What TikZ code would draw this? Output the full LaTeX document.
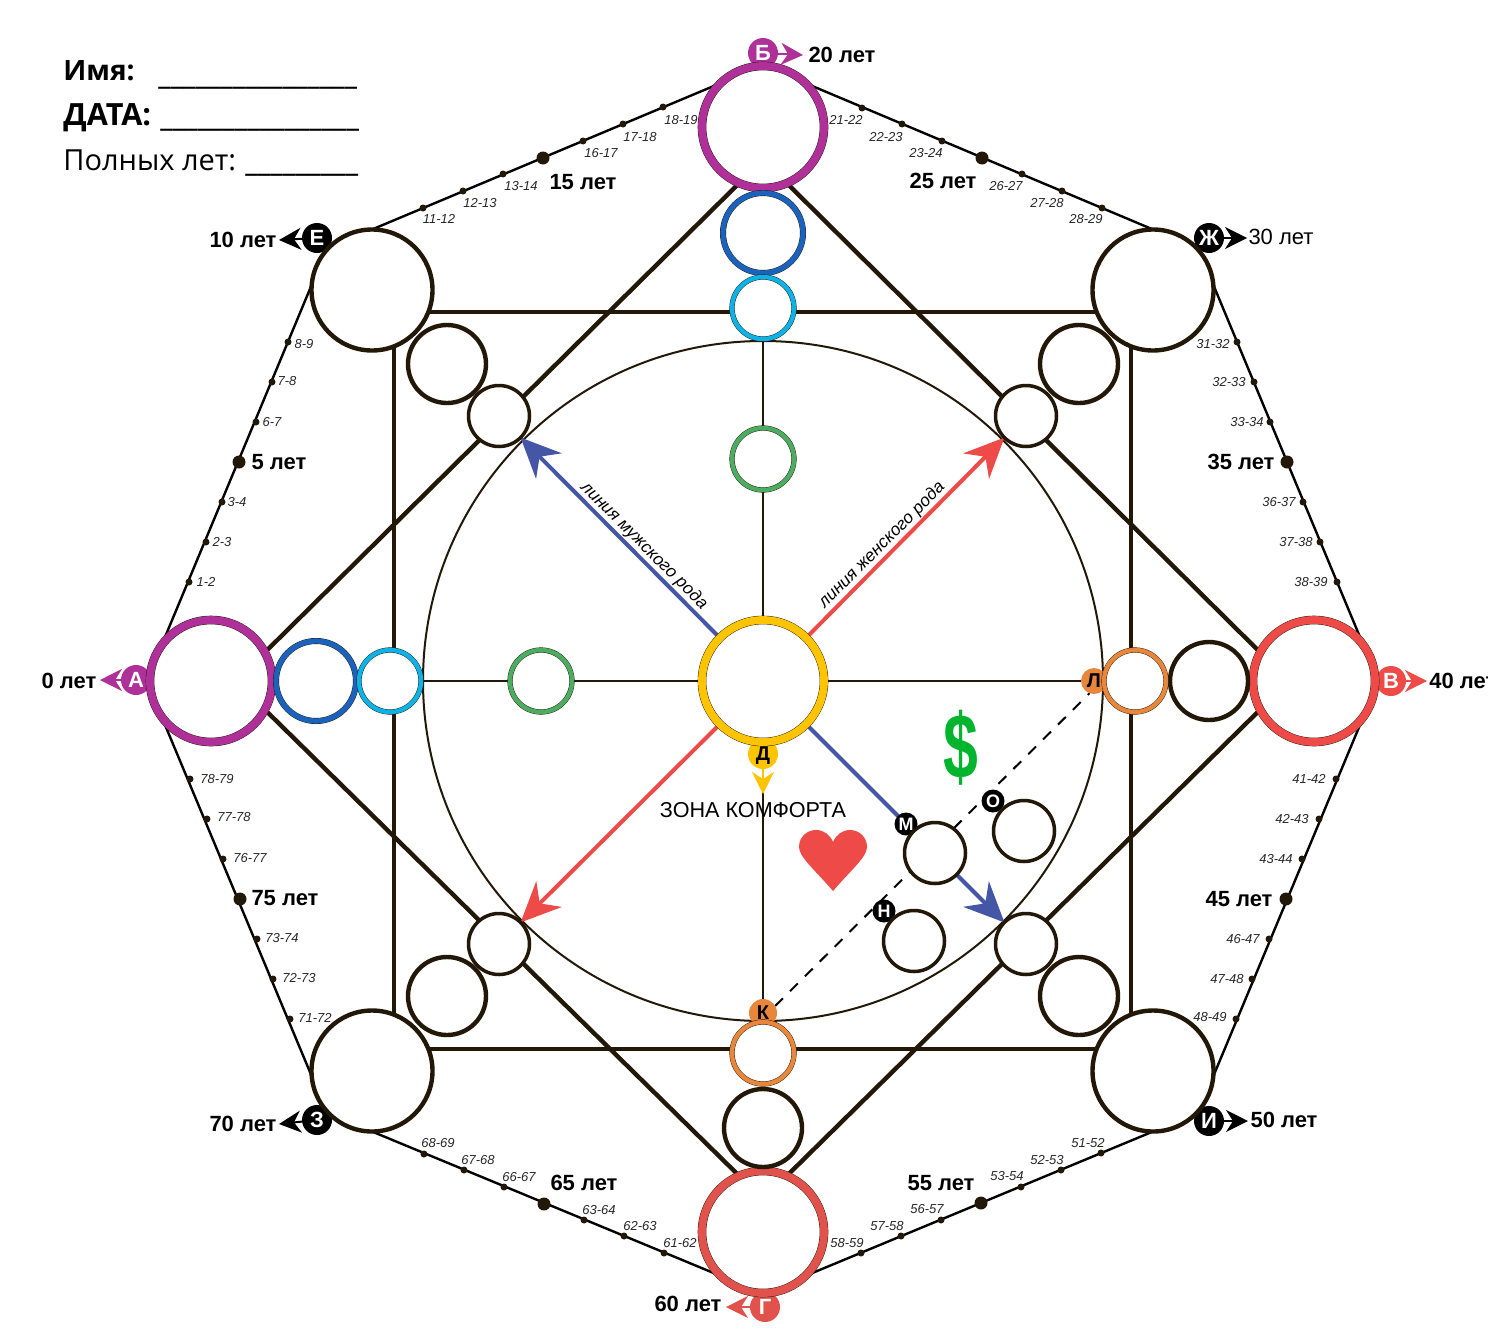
\documentclass[tikz,border=0pt]{standalone}
\usepackage{fontspec}
\setmainfont{Liberation Sans}
\newfontfamily\headfont{Open Sans}
\usetikzlibrary{arrows.meta}
\pgfdeclarelayer{back}
\pgfsetlayers{back,main}
\definecolor{dark}{HTML}{231808}
\definecolor{magentac}{HTML}{AE3098}
\definecolor{redc}{HTML}{EE4B48}
\definecolor{redg}{HTML}{E2524C}
\definecolor{bluec}{HTML}{1B62BC}
\definecolor{cyanc}{HTML}{0DB2E6}
\definecolor{greenc}{HTML}{4BAC62}
\definecolor{orangec}{HTML}{E8873C}
\definecolor{yellowc}{HTML}{FFC400}
\definecolor{arrowblue}{HTML}{4556A6}
\definecolor{dollarc}{HTML}{00B52D}
\tikzset{
    ring/.style={circle, draw=dark, line width=0.2pt, double=#1, fill=white, inner sep=0pt, outer sep=0pt},
    bigring/.style={ring=#1, minimum size=61pt, double distance=3.9pt},
    midring/.style={ring=#1, minimum size=40pt, double distance=2.6pt},
    smallring/.style={ring=#1, minimum size=31pt, double distance=2.2pt},
    plain/.style={circle, draw=dark, line width=2.2pt, fill=white, inner sep=0pt, outer sep=0pt, minimum size=#1},
    badge/.style={circle, fill=#1, text=white, inner sep=0pt, outer sep=0pt, text depth=0pt, minimum size=15pt, font=\bfseries\fontsize{11}{11}\selectfont},
    tinybadge/.style={badge=black, minimum size=11.5pt, font=\bfseries\fontsize{9}{9}\selectfont},
    agelbl/.style={font=\itshape\fontsize{6.5}{6.5}\selectfont, text=black!85, inner sep=0pt},
    yearlbl/.style={font=\bfseries\fontsize{11}{11}\selectfont, inner sep=0pt},
    formlbl/.style={anchor=west, inner sep=0pt, font=\headfont\bfseries\fontsize{#1}{#1}\selectfont},
    thick line/.style={draw=dark, line width=2.2pt},
    edge line/.style={draw=black, line width=1.2pt},
    thin line/.style={draw=dark, line width=1pt},
    pointer/.style={draw=#1, line width=1pt, -{Stealth[length=11pt, width=11pt, inset=3.5pt]}},
    rodline/.style={draw=#1, line width=2pt, -{Stealth[length=20pt, width=18pt, inset=6.5pt]}},
}
\begin{document}
\begin{tikzpicture}[x=0.5pt, y=-0.5pt]
    \useasboundingbox (0,0) rectangle (1488,1333);

    % form at the top left
    \node[formlbl=14] (name) at (63,71) {Имя:};
    \node[formlbl=15.3] (date) at (63,118) {ДАТА:};
    \node[formlbl=14.5, font=\headfont\fontsize{14.5}{14.5}\selectfont] (age) at (63,160) {Полных лет:};
    \node[formlbl=15.1] (nameblank) at (158,87) {\_\_\_\_\_\_\_\_\_\_\_\_\_\_\_\_};
    \node[formlbl=15.1] (dateblank) at (160,129) {\_\_\_\_\_\_\_\_\_\_\_\_\_\_\_\_};
    \node[formlbl=15.25] (ageblank) at (245,174) {\_\_\_\_\_\_\_\_\_};

    % letters
    \node[badge=magentac] (la) at (136,680) {А};
    \node[badge=magentac] (lb) at (763,53) {Б};
    \node[badge=redc] (lv) at (1391,681) {В};
    \node[badge=redg] (lg) at (765,1307) {Г};
    \node[badge=yellowc, text=black, font=\bfseries\fontsize{10}{10}\selectfont] (ld) at (763,754) {Д};
    \node[badge=black] (le) at (317,238) {Е};
    \node[badge=black] (lzh) at (1209,238) {Ж};
    \node[badge=black] (lz) at (317,1120) {З};
    \node[badge=black] (li) at (1209,1121) {И};
    \node[badge=orangec, text=black, minimum size=14pt, font=\bfseries\fontsize{10}{10}\selectfont] (lk) at (763,1013) {К};
    \node[badge=orangec, text=black, minimum size=13pt, font=\bfseries\fontsize{10}{10}\selectfont] (ll) at (1094,681) {Л};
    \node[tinybadge] (lm) at (906,824) {М};
    \node[tinybadge] (ln) at (884,911) {Н};
    \node[tinybadge] (lo) at (993,801) {О};

    % big circles of the octagon
    \node[bigring=magentac] (ra) at (211,681) {};
    \node[bigring=magentac] (rb) at (763,127) {};
    \node[bigring=redc] (rv) at (1314,681) {};
    \node[bigring=redg] (rg) at (763,1232) {};
    \node[bigring=yellowc] (center) at (763,681) {};
    \foreach \n/\x/\y in {mnw/447/364, mne/1079/364, msw/447/996, mse/1079/996, me/1209/681, ms/763/1128} {
        \node[plain=39pt] (\n) at (\x,\y) {};
    }
    \foreach \n/\x/\y in {re/372/290, rzh/1153/290, rz/372/1071, ri/1153/1071} {
        \node[plain=60.5pt] (\n) at (\x,\y) {};
    }
    \foreach \n/\x/\y in {snw/499/416, sne/1026/416, ssw/499/944, sse/1026/944, om/935/853, oo/1024/831, on/914/941} {
        \node[plain=30.5pt, line width=1.75pt] (\n) at (\x,\y) {};
    }

    % coloured rings on the two axes
    \node[midring=bluec] (bn) at (763,233) {};
    \node[midring=bluec] (bw) at (316,681) {};
    \node[smallring=cyanc] (cn) at (763,308) {};
    \node[smallring=cyanc] (cw) at (390,681) {};
    \node[smallring=greenc] (gn) at (763,459) {};
    \node[smallring=greenc] (gw) at (541,681) {};
    \node[smallring=orangec] (oe) at (1135,681) {};
    \node[smallring=orangec] (os) at (763,1053) {};

    % years at the letters
    \node[yearlbl] (y0) at (69,681) {0 лет};
    \node[yearlbl] (y10) at (243,240) {10 лет};
    \node[yearlbl] (y20) at (842,55) {20 лет};
    \node[yearlbl, font=\fontsize{11}{11}\selectfont] (y30) at (1281,237) {30 лет};
    \node[yearlbl, anchor=west] (y40) at (1429,681) {40 лет};
    \node[yearlbl] (y50) at (1284,1120) {50 лет};
    \node[yearlbl] (y60) at (688,1304) {60 лет};
    \node[yearlbl] (y70) at (243,1124) {70 лет};
    \foreach \n/\x/\y/\t in {y5/279/462/5 лет, y15/583/182/15 лет, y25/943/181/25 лет, y35/1241/462/35 лет, y45/1239/899/45 лет, y55/941/1183/55 лет, y65/584/1183/65 лет, y75/285/898/75 лет} {
        \node[yearlbl] (\n) at (\x,\y) {\t};
    }

    % dots and years along the edges
    \foreach \x/\y in {543/158, 982/158, 1287/462, 1286/899, 981/1203, 544/1204, 240/899, 239/462} {
        \fill[dark] (\x,\y) circle [radius=6.5];
    }
    \foreach \x/\y/\dx/\dy/\t in {
        423/208/16/11/11-12, 463/191/17/12/12-13, 503/174/18/12/13-14, 583/141/18/12/16-17, 623/124/17/13/17-18, 663/107/18/13/18-19,
        862/108/-16/12/21-22, 902/124/-16/13/22-23, 942/141/-16/12/23-24, 1022/174/-16/12/26-27, 1062/191/-15/12/27-28, 1102/208/-16/11/28-29,
        1237/342/-24/2/31-32, 1254/382/-25/0/32-33, 1270/422/-23/0/33-34, 1303/502/-24/0/36-37, 1320/542/-24/0/37-38, 1337/582/-26/0/38-39,
        1336/779/-27/0/41-42, 1319/819/-27/0/42-43, 1302/859/-26/0/43-44, 1269/939/-26/0/46-47, 1252/979/-25/0/47-48, 1236/1019/-26/-2/48-49,
        1101/1153/-13/-10/51-52, 1061/1170/-14/-10/52-53, 1021/1187/-14/-11/53-54, 941/1220/-14/-11/56-57, 901/1236/-14/-10/57-58, 861/1253/-14/-10/58-59,
        664/1253/16/-10/61-62, 624/1236/16/-10/62-63, 584/1220/15/-10/63-64, 504/1187/15/-10/66-67, 464/1170/14/-10/67-68, 424/1154/14/-11/68-69,
        290/1019/25/-1/71-72, 273/979/26/-1/72-73, 257/939/25/-1/73-74, 223/859/27/-1/76-77, 207/819/27/-2/77-78, 190/779/27/0/78-79,
        189/582/17/0/1-2, 206/542/16/0/2-3, 222/502/15/0/3-4, 256/422/16/0/6-7, 272/382/15/-1/7-8, 288/342/16/2/8-9} {
        \fill[dark] (\x,\y) circle [radius=3.5];
        \node[agelbl] (age\t) at (\x+\dx,\y+\dy) {\t};
    }

    % pointers from the letters
    \coordinate (ta) at (100,680);
    \coordinate (tb) at (803,55);
    \coordinate (tv) at (1427,681);
    \coordinate (tg) at (726,1307);
    \coordinate (td) at (763,794);
    \coordinate (te) at (279,240);
    \coordinate (tzh) at (1247,238);
    \coordinate (tz) at (279,1124);
    \coordinate (ti) at (1248,1121);
    \draw[pointer=magentac] (la) -- (ta);
    \draw[pointer=magentac] (lb) -- (tb);
    \draw[pointer=redc] (lv) -- (tv);
    \draw[pointer=redg] (lg) -- (tg);
    \draw[pointer=yellowc] (ld) -- (td);
    \draw[pointer=black] (le) -- (te);
    \draw[pointer=black] (lzh) -- (tzh);
    \draw[pointer=black] (lz) -- (tz);
    \draw[pointer=black] (li) -- (ti);

    % texts of the inner zone
    \node[inner sep=0pt, rotate=-45, font=\itshape\fontsize{8.6}{8.6}\selectfont] (male) at (644,546) {линия мужского рода};
    \node[inner sep=0pt, rotate=45, font=\itshape\fontsize{8.6}{8.6}\selectfont] (female) at (882,545) {линия женского рода};
    \node[inner sep=0pt, font=\fontsize{10.8}{10.8}\selectfont] (comfort) at (753,810) {ЗОНА КОМФОРТА};
    \node[inner sep=0pt, text=dollarc, xscale=0.68, font=\bfseries\fontsize{46}{46}\selectfont] (dollar) at (961,748) {\$};
    \fill[redc] (833,891) .. controls (815,870) and (799,857) .. (799,847) .. controls (799,836) and (808,830) .. (816,830) .. controls (824,830) and (830,835) .. (833,842) .. controls (836,835) and (842,830) .. (850,830) .. controls (858,830) and (867,836) .. (867,847) .. controls (867,857) and (851,870) .. (833,891) -- cycle;

    \begin{pgfonlayer}{back}
        % octagon
        \draw[edge line] (ra.144) -- (re.175);
        \draw[edge line] (re.90) -- (rb.134);
        \draw[edge line] (rb.46) -- (rzh.90);
        \draw[edge line] (rzh.5) -- (rv.36);
        \draw[edge line] (rv.-36) -- (ri.-5);
        \draw[edge line] (ri.270) -- (rg.-46);
        \draw[edge line] (rg.226) -- (rz.270);
        \draw[edge line] (rz.185) -- (ra.216);
        % square and the diagonals
        \draw[thick line] (394,312) rectangle (1131,1049);
        \draw[thick line] (rb.247) -- (ra.28);
        \draw[thick line] (rb.293) -- (rv.152);
        \draw[thick line] (rg.113) -- (ra.-28);
        \draw[thick line] (rg.67) -- (rv.208);
        % zone and its axes
        \draw[thin line] (center) circle [radius=340];
        \draw[thin line] (cn) -- (os);
        \draw[thin line] (cw) -- (oe);
        \draw[draw=black, line width=1pt, dash pattern=on 5.5pt off 5pt] (lk.30) -- (ll.250);
        % lines of the family
        \draw[rodline=arrowblue] (center.135) -- (snw.-45);
        \draw[rodline=arrowblue] (center.-45) -- (sse.135);
        \draw[rodline=redc] (center.45) -- (sne.225);
        \draw[rodline=redc] (center.225) -- (ssw.45);
    \end{pgfonlayer}
\end{tikzpicture}
\end{document}
